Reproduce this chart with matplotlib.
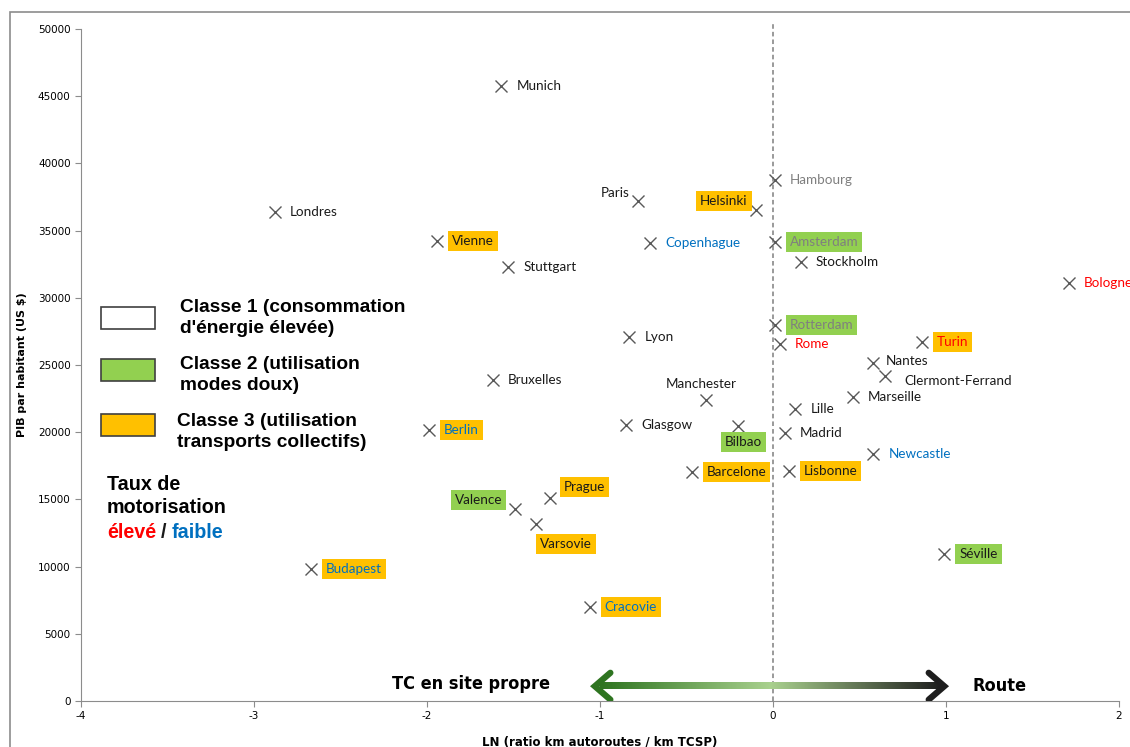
import numpy as np
import matplotlib
matplotlib.use("Agg")
import matplotlib.pyplot as plt
from matplotlib.colors import LinearSegmentedColormap
from matplotlib.patches import Rectangle

plt.rcParams["axes.unicode_minus"] = False

#%% Data.
villes = ["Munich", "Londres", "Paris", "Helsinki", "Hambourg", "Vienne", "Copenhague",
          "Amsterdam", "Stuttgart", "Stockholm", "Bologne", "Lyon", "Rotterdam", "Rome",
          "Turin", "Nantes", "Clermont-Ferrand", "Marseille", "Bruxelles", "Manchester",
          "Lille", "Glasgow", "Bilbao", "Madrid", "Berlin", "Newcastle", "Barcelone",
          "Lisbonne", "Prague", "Valence", "Varsovie", "Séville", "Budapest", "Cracovie"]
ln_ratio = [-1.57, -2.88, -0.78, -0.10, 0.01, -1.94, -0.71,
            0.01, -1.53, 0.16, 1.71, -0.83, 0.01, 0.04,
            0.86, 0.58, 0.65, 0.46, -1.62, -0.39,
            0.13, -0.85, -0.20, 0.07, -1.99, 0.58, -0.47,
            0.09, -1.29, -1.49, -1.37, 0.99, -2.67, -1.06]
pib = [45760, 36380, 37200, 36530, 38760, 34220, 34080,
       34150, 32290, 32660, 31100, 27080, 27970, 26560,
       26710, 25150, 24180, 22620, 23880, 22390,
       21720, 20530, 20460, 19940, 20160, 18380, 17040,
       17110, 15100, 14290, 13170, 10940, 9820, 6990]
# classe : 1 = énergie élevée, 2 = modes doux, 3 = transports collectifs
classe = [1, 1, 1, 3, 1, 3, 1,
          2, 1, 1, 1, 1, 2, 1,
          3, 1, 1, 1, 1, 1,
          1, 1, 2, 1, 3, 1, 3,
          3, 3, 2, 3, 2, 3, 3]
# taux de motorisation : 'n' normal, 'h' élevé, 'l' faible, 'g' gris
motor = ["n", "n", "n", "n", "g", "n", "l",
         "g", "n", "n", "h", "n", "g", "h",
         "h", "n", "n", "n", "n", "n",
         "n", "n", "n", "n", "l", "l", "n",
         "n", "n", "n", "n", "n", "l", "l"]

#%% Styles.
box_col = {1: None, 2: "#92D050", 3: "#FFC000"}
txt_col = {"n": "#1a1a1a", "h": "#FF0000", "l": "#0070C0", "g": "#7f7f7f"}
# label placement (pixel offset from marker, horizontal alignment)
place = {"Paris": (-8, 8, "right"), "Helsinki": (-8, 9, "right"),
         "Manchester": (-4, 16, "center"), "Bilbao": (5, -16, "center"),
         "Prague": (14, 11, "left"), "Valence": (-13, 9, "right"),
         "Varsovie": (4, -20, "left"), "Nantes": (12, 2, "left"),
         "Clermont-Ferrand": (19, -5, "left")}

fig = plt.figure(figsize=(11.3, 7.47), dpi=100)
ax = fig.add_axes([81 / 1130, 46 / 747, 1038 / 1130, 672 / 747])

# outer chart frame
fig.patches.append(Rectangle((10 / 1130, -0.1), 1.2, (735 / 747) + 0.1,
                             transform=fig.transFigure, fill=False,
                             ec="#8c8c8c", lw=1.2))

ax.axvline(0, ymin=0, ymax=1.01, color="#7f7f7f", ls=(0, (3, 2)), lw=1.1,
           clip_on=False)

ax.plot(ln_ratio, pib, ls="none", marker="x", ms=9, mew=1.0, color="#595959")

for name, x, y, c, m in zip(villes, ln_ratio, pib, classe, motor):
    dx, dy, ha = place.get(name, (15, 0, "left"))
    bb = None
    if box_col[c] is not None:
        bb = dict(boxstyle="square,pad=0.3", fc=box_col[c], ec="none")
    ax.annotate(name, (x, y), xytext=(dx, dy), textcoords="offset pixels",
                ha=ha, va="center", fontsize=9.7, color=txt_col[m],
                family="Lato", bbox=bb, annotation_clip=False)

ax.set_xlim(-4, 2)
ax.set_ylim(0, 50000)
ax.set_xticks(np.arange(-4, 3, 1))
ax.set_yticks(np.arange(0, 50001, 5000))
ax.tick_params(labelsize=7.5, length=4, width=0.8, color="#8c8c8c")
for s in ["top", "right"]:
    ax.spines[s].set_visible(False)
for s in ["left", "bottom"]:
    ax.spines[s].set_color("#8c8c8c")

ax.set_xlabel("LN (ratio km autoroutes / km TCSP)", fontsize=8.5,
              fontweight="bold", labelpad=10)
ax.set_ylabel("PIB par habitant (US $)", fontsize=8, fontweight="bold",
              labelpad=8)

#%% Legend drawn by hand.
leg = [("#FFFFFF", "Classe 1 (consommation\nd'énergie élevée)", 318, 318, 180),
       ("#92D050", "Classe 2 (utilisation\nmodes doux)", 375, 370, 180),
       ("#FFC000", "Classe 3 (utilisation\ntransports collectifs)", 432, 425, 177)]
for fc, lab, py, box_y, px in leg:
    fig.patches.append(Rectangle((101 / 1130, 1 - (box_y + 11) / 747), 54 / 1130, 22 / 747,
                                 transform=fig.transFigure, fc=fc, ec="#404040", lw=1.2))
    fig.text(px / 1130, 1 - py / 747, lab, fontsize=13.8, fontweight="bold",
             family="Liberation Sans", va="center", ha="left", linespacing=1.32)

fig.text(107 / 1130, 1 - 496 / 747, "Taux de\nmotorisation", fontsize=14.2,
         fontweight="bold", family="Liberation Sans", va="center", linespacing=1.25)
fig.text(107 / 1130, 1 - 532 / 747, "élevé", fontsize=14.2, fontweight="bold",
         family="Liberation Sans", color="#FF0000", va="center")
fig.text(161 / 1130, 1 - 532 / 747, "/", fontsize=14.2, fontweight="bold",
         family="Liberation Sans", color="#1a1a1a", va="center")
fig.text(172 / 1130, 1 - 532 / 747, "faible", fontsize=14.2, fontweight="bold",
         family="Liberation Sans", color="#0070C0", va="center")

#%% Gradient arrow TC en site propre <-> Route.
ya = 1100
cmap = LinearSegmentedColormap.from_list(
    "arr", [(0, "#2E7420"), (0.5, "#A9D18E"), (1, "#1E1E1E")])
grad = np.linspace(0, 1, 256).reshape(1, -1)
ax.imshow(grad, extent=[-1.0, 0.97, ya - 230, ya + 230], aspect="auto",
          cmap=cmap, zorder=2)
ax.plot([-0.94, -1.03, -0.94], [ya + 1000, ya, ya - 1000], color="#2E7420",
        lw=4.5, solid_capstyle="round", solid_joinstyle="miter", zorder=3)
ax.plot([0.90, 0.99, 0.90], [ya + 1000, ya, ya - 1000], color="#1E1E1E",
        lw=4.5, solid_capstyle="round", solid_joinstyle="miter", zorder=3)
ax.text(-1.29, ya + 200, "TC en site propre", fontsize=13, fontweight="bold",
        family="DejaVu Sans", fontstretch="condensed", ha="right", va="center")
ax.text(1.155, ya, "Route", fontsize=13, fontweight="bold",
        family="DejaVu Sans", fontstretch="condensed", ha="left", va="center")
ax.set_xlim(-4, 2)
ax.set_ylim(0, 50000)

fig.savefig("out.png", dpi=100)
